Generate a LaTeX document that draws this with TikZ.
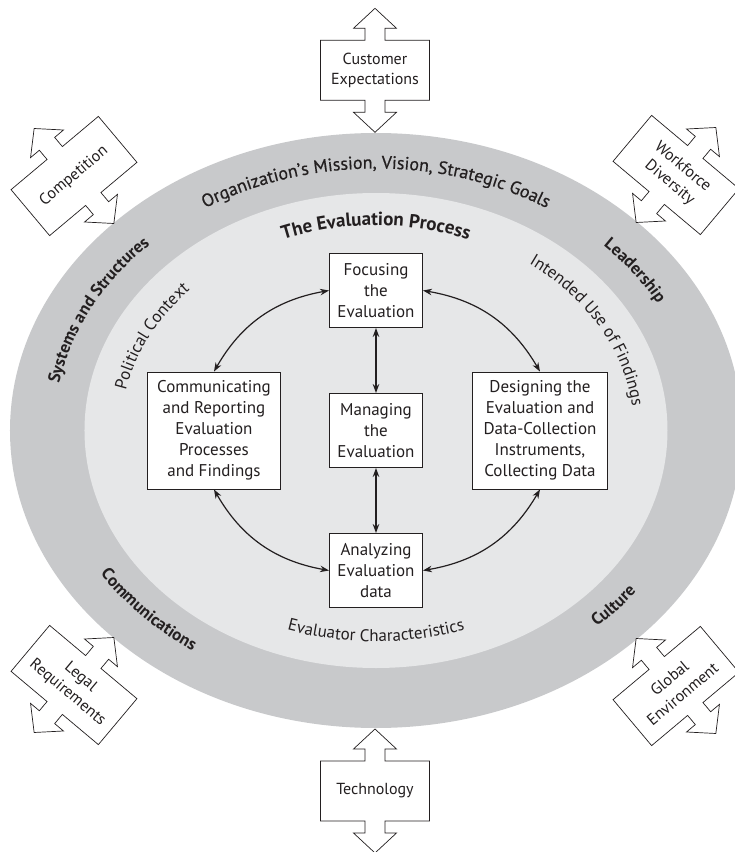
\documentclass[tikz,border=0pt]{standalone}
\usepackage{fontspec}
\setmainfont{PT Sans}
\newfontfamily\midweight[FakeBold=0.6]{PT Sans}
\usetikzlibrary{arrows.meta,decorations.text}
\definecolor{bandgray}{HTML}{C8C9CB}
\definecolor{coregray}{HTML}{E6E7E8}
\definecolor{ink}{HTML}{231F20}

\begin{document}
\begin{tikzpicture}[x=1pt,y=1pt]
	\tikzstyle{every node}+=[inner sep=0pt, text=ink, font=\fontsize{16}{20.3}\selectfont]
	\tikzstyle{stage}=[draw=ink, fill=white, line width=0.9pt, align=center, minimum width=93, minimum height=74, font=\fontsize{17}{21}\selectfont]
	\tikzstyle{biarrow}=[draw=ink, line width=1.2pt, {Stealth[length=9pt,width=6.5pt]}-{Stealth[length=9pt,width=6.5pt]}]
	\tikzstyle{force}=[draw=ink, fill=white, line width=0.7pt]
	\tikzstyle{ringtext}=[decorate, decoration={text along path, text align=center, text color=ink}]
	\useasboundingbox (-376,-421.5) rectangle (359,430.5);
	% the two rings
	\fill[bandgray] (0,0) ellipse [x radius=366, y radius=297.5];
	\fill[coregray] (0,0) ellipse [x radius=291.5, y radius=237.5];
	% outer ring
	\path[ringtext, decoration={text={|\midweight\fontsize{18}{20}\selectfont|Organization’s Mission, Vision, Strategic Goals}}] (150:323 and 262) arc[start angle=150, end angle=30, x radius=323, y radius=262];
	\path[ringtext, decoration={text={|\fontsize{17}{20}\selectfont\bfseries|Systems and Structures}}] (190:322 and 261) arc[start angle=190, end angle=117, x radius=322, y radius=261];
	\path[ringtext, decoration={text={|\fontsize{17}{20}\selectfont\bfseries|Leadership}}] (62:322 and 261) arc[start angle=62, end angle=10, x radius=322, y radius=261];
	\path[ringtext, decoration={text={|\fontsize{17}{20}\selectfont\bfseries|Communications}}] (193:327 and 266) arc[start angle=193, end angle=253, x radius=327, y radius=266];
	\path[ringtext, decoration={text={|\fontsize{17}{20}\selectfont\bfseries|Culture}}] (295:327 and 266) arc[start angle=295, end angle=342, x radius=327, y radius=266];
	% inner ring
	\path[ringtext, decoration={text={|\fontsize{19}{20}\selectfont\bfseries|The Evaluation Process}}] (145:255 and 205) arc[start angle=145, end angle=35, x radius=255, y radius=205];
	\path[ringtext, decoration={text={|\fontsize{17}{20}\selectfont|Political Context}}] (187:255 and 205) arc[start angle=187, end angle=121, x radius=255, y radius=205];
	\path[ringtext, decoration={text={|\fontsize{17}{20}\selectfont|Intended Use of Findings}}] (66:258 and 207) arc[start angle=66, end angle=-8, x radius=258, y radius=207];
	\path[ringtext, decoration={text={|\fontsize{17}{20}\selectfont|Evaluator Characteristics}}] (228:272 and 211) arc[start angle=228, end angle=312, x radius=272, y radius=211];
	% process boxes
	\node[stage] (foc) at (0,140) {Focusing\\the\\Evaluation};
	\node[stage] (man) at (0,0) {Managing\\the\\Evaluation};
	\node[stage] (ana) at (0,-140) {Analyzing\\Evaluation\\data};
	\node[stage, minimum width=133, minimum height=117] (com) at (-162,0) {Communicating\\and Reporting\\Evaluation\\Processes\\and Findings};
	\node[stage, minimum width=135, minimum height=117] (des) at (164,0) {Designing the\\Evaluation and\\Data-Collection\\Instruments,\\Collecting Data};
	\draw[biarrow] (foc.west) to[bend right=25] (com.north);
	\draw[biarrow] (foc.east) to[bend left=25] (des.north);
	\draw[biarrow] (com.south) to[bend right=25] (ana.west);
	\draw[biarrow] (des.south) to[bend left=25] (ana.east);
	\draw[biarrow] (foc) -- (man);
	\draw[biarrow] (man) -- (ana);
	% outside forces
	\foreach \nm/\px/\py/\ang/\w/\txt in {cust/-1/360.2/0/109/{Customer\\Expectations}, tech/-1/-360.5/0/109/Technology, comp/-302/254.5/40/114/Competition, work/300/255.5/-40/114/{Workforce\\Diversity}, legal/-302/-254.5/-40/114/{Legal\\Requirements}, glob/300/-255.5/40/114/{Global\\Environment}} {
		\begin{scope}[shift={(\px,\py)}, rotate=\ang]
			\draw[force] (-\w/2,-30) -- (-10,-30) -- (-10,-42) -- (-21.5,-42) -- (0,-62) -- (21.5,-42) -- (10,-42) -- (10,-30) -- (\w/2,-30) -- (\w/2,30) -- (10,30) -- (10,42) -- (21.5,42) -- (0,62) -- (-21.5,42) -- (-10,42) -- (-10,30) -- (-\w/2,30) -- cycle;
			\node[align=center, rotate=\ang] (\nm) at (0,0) {\txt};
		\end{scope}
	}
\end{tikzpicture}
\end{document}
